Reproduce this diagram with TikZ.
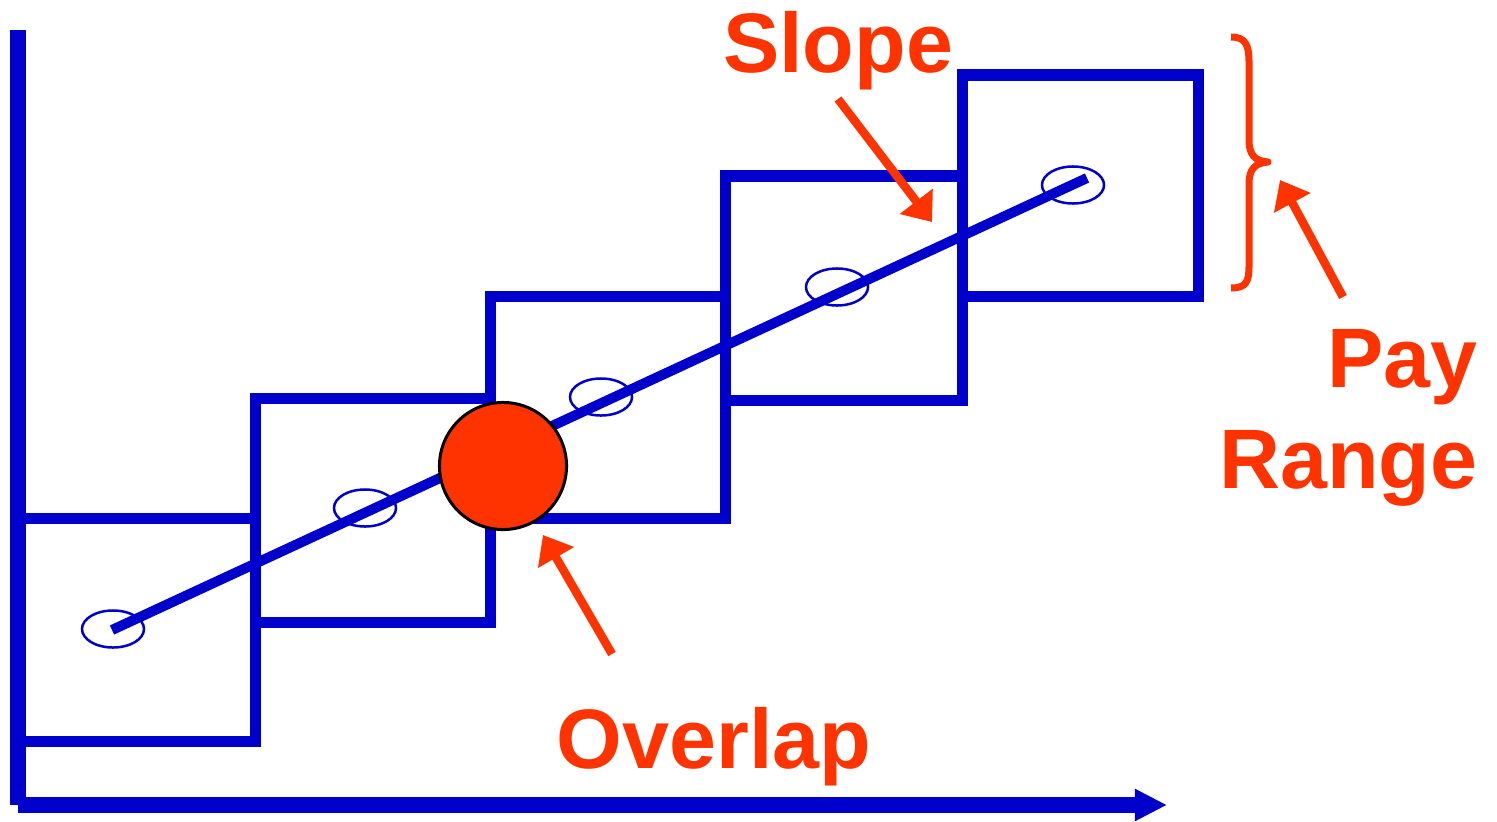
\documentclass[tikz,border=0pt]{standalone}
\usepackage{fontspec}
\setmainfont{Liberation Sans}
\usepackage{tikz}
\usetikzlibrary{positioning,arrows.meta,shapes.geometric,calc}
\definecolor{payblue}{HTML}{0000CC}
\definecolor{payred} {HTML}{FF3300}
\tikzset{
  % --- shapes
  axis/.style  = {draw=payblue, line width=1.6mm},
  band/.style  = {draw=payblue, line width=1.1mm},
  trend/.style = {draw=payblue, line width=1.0mm},
  mid/.style   = {ellipse, draw=payblue, line width=0.25mm, inner sep=0pt,
                  minimum width=6.2mm, minimum height=3.7mm},
  hit/.style   = {circle, draw=black, fill=payred, line width=0.3mm, inner sep=0pt,
                  minimum size=12.7mm},
  lbl/.style   = {font=\fontsize{24}{28.7}\selectfont\bfseries, text=payred, inner sep=0pt},
  % --- edges
  arr/.style   = {-{Triangle[length=2.6mm,width=4mm]}, draw=payred, line width=0.85mm},
  brc/.style   = {draw=payred, line width=0.7mm, line join=round},
}
\begin{document}
\begin{tikzpicture}[x=0.01cm, y=-0.01cm]
  \useasboundingbox (0,0) rectangle (1497,821);
  % axes
  \coordinate (ytop)   at (18,30);
  \coordinate (origin) at (18,805);
  \coordinate (xend)   at (1167,805);
  \draw[axis] (ytop) -- (origin);
  \draw[axis, -{Triangle[length=3.2mm,width=3mm]}] (origin) -- (xend);
  % pay ranges
  \draw[band] (18,518) rectangle (255,741);
  \draw[band] (255,398) rectangle (490,622);
  \draw[band] (490,296) rectangle (725,518);
  \draw[band] (725,176) rectangle (962,400);
  \draw[band] (962,75) rectangle (1198,296);
  \coordinate (low)  at (112,630);
  \coordinate (high) at (1087,178);
  \draw[trend] (low) -- (high);
  \node[mid] (m1) at (113,629) {};
  \node[mid] (m2) at (365,508) {};
  \node[mid] (m3) at (601,397) {};
  \node[mid] (m4) at (837,287) {};
  \node[mid] (m5) at (1073,185) {};
  \node[hit] (hit) at (503,466) {};
  % labels
  \node[lbl, anchor=base] (slope) at (838,72) {Slope};
  \node[lbl, anchor=base] (overlap) at (714,768) {Overlap};
  \node[lbl, anchor=base east, align=right] (pay) at (1478,488) {Pay\\Range};
  \coordinate (slopefrom) at (838,99);
  \coordinate (slopeto)   at (932,222);
  \coordinate (payfrom)   at (1343,297);
  \coordinate (payto)     at (1280,180);
  \coordinate (overfrom)  at (612,654);
  \coordinate (overto)    at (543,535);
  \draw[arr] (slopefrom) -- (slopeto);
  \draw[arr] (payfrom) -- (payto);
  \draw[arr] (overfrom) -- (overto);
  % brace
  \draw[brc] (1231,37) .. controls (1246,37) and (1249,46) .. (1249,62) -- (1249,140)
    .. controls (1249,155) and (1255,161) .. (1268,162)
    .. controls (1255,163) and (1249,169) .. (1249,184) -- (1249,266)
    .. controls (1249,282) and (1246,288) .. (1231,288);
\end{tikzpicture}
\end{document}
